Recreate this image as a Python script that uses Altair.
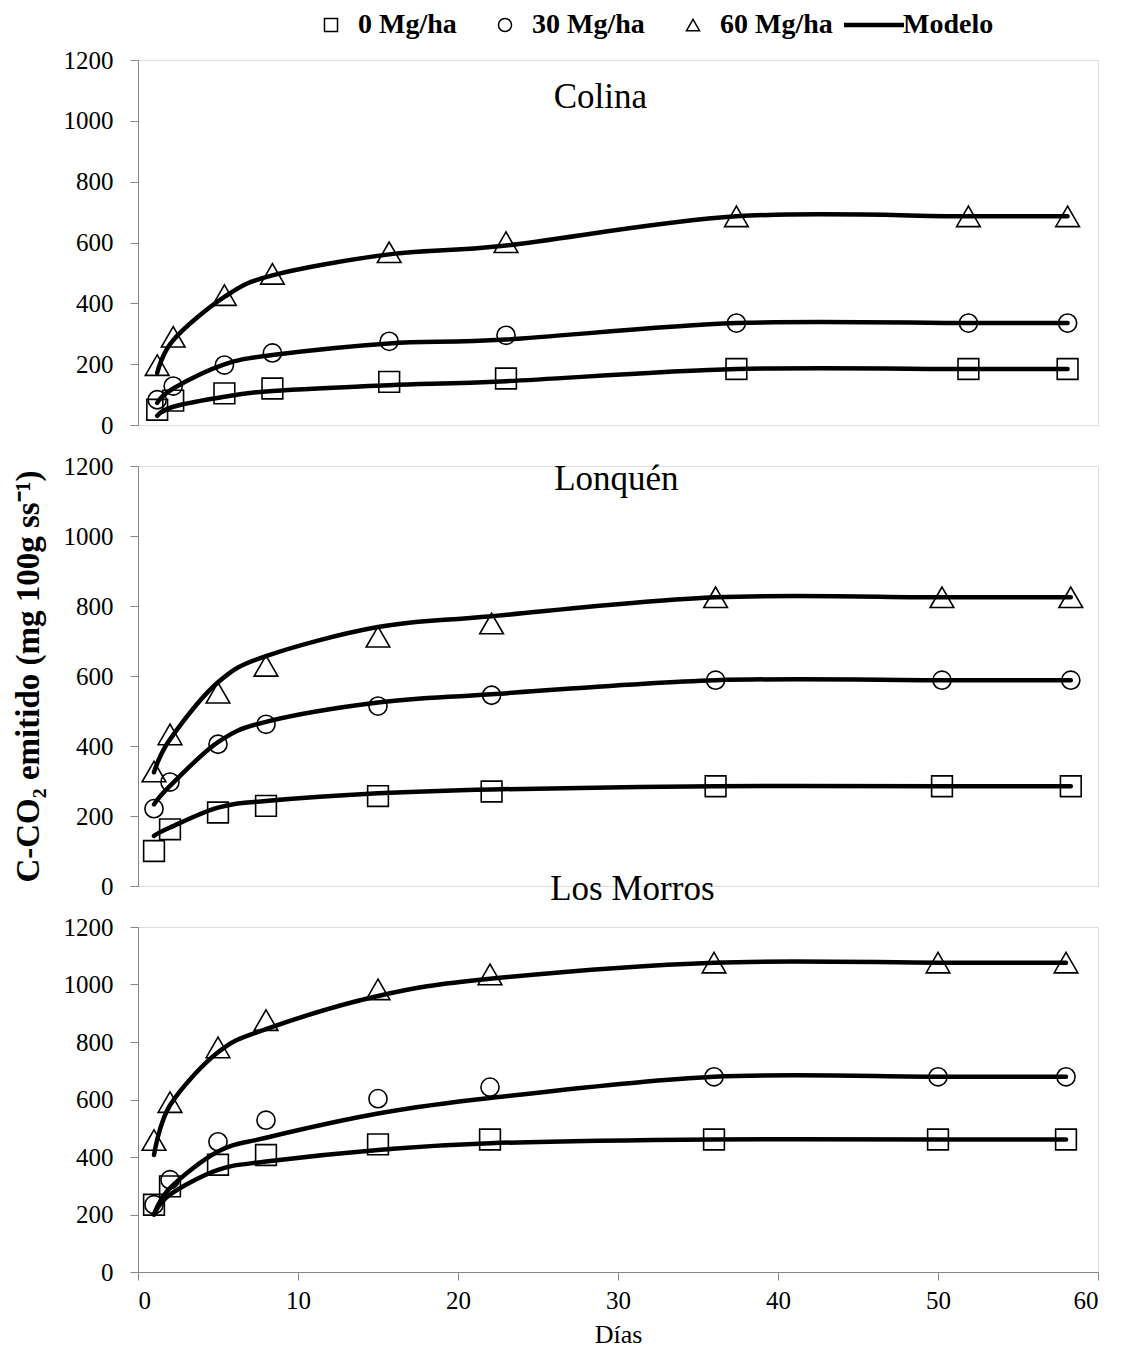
import altair as alt
import pandas as pd

FONT = "Liberation Serif"

series = ["0 Mg/ha", "30 Mg/ha", "60 Mg/ha"]
shapes = ["square", "circle", "triangle-up"]
marker_sizes = [430, 330, 560]
y_ticks = [0, 200, 400, 600, 800, 1000, 1200]
x_ticks = [0, 10, 20, 30, 40, 50, 60]

# panel titles: text, x (days), y (value units)
titles = ["Colina", "Lonquén", "Los Morros"]
title_x = [28.9, 29.9, 30.9]
title_y = [1042, 1131, 1295]

# ---- Colina ----
colina_dias = [1.2, 2.2, 5.4, 8.4, 15.7, 23.0, 37.4, 51.9, 58.1]
colina_obs_0 = [50, 80, 104, 120, 142, 153, 184, 184, 184]
colina_obs_30 = [83, 128, 197, 237, 275, 295, 335, 335, 335]
colina_obs_60 = [197, 290, 427, 497, 568, 601, 686, 686, 686]
colina_mod_0 = [30, 60, 93, 112, 131, 144, 184, 184, 184]
colina_mod_30 = [73, 120, 199, 230, 268, 281, 335, 335, 335]
colina_mod_60 = [171, 279, 421, 492, 561, 590, 686, 686, 686]

# ---- Lonquén ----
lonquen_dias = [1.0, 2.0, 5.0, 8.0, 15.0, 22.1, 36.1, 50.25, 58.3]
lonquen_obs_0 = [100, 162, 210, 229, 257, 270, 285, 285, 285]
lonquen_obs_30 = [221, 297, 405, 462, 514, 545, 588, 588, 588]
lonquen_obs_60 = [327, 433, 552, 629, 712, 750, 825, 825, 825]
lonquen_mod_0 = [143, 167, 224, 243, 265, 276, 285, 285, 285]
lonquen_mod_30 = [233, 286, 411, 469, 524, 548, 588, 588, 588]
lonquen_mod_60 = [325, 419, 582, 657, 740, 771, 825, 825, 825]

# ---- Los Morros ----
morros_dias = [1.0, 2.0, 5.0, 8.0, 15.0, 22.0, 36.0, 50.0, 58.0]
morros_obs_0 = [234, 298, 373, 407, 444, 461, 461, 461, 461]
morros_obs_30 = [234, 321, 453, 528, 603, 643, 679, 679, 679]
morros_obs_60 = [459, 591, 781, 876, 983, 1035, 1076, 1076, 1076]
morros_mod_0 = [200, 269, 355, 384, 424, 448, 461, 461, 461]
morros_mod_30 = [200, 292, 419, 467, 551, 605, 679, 679, 679]
morros_mod_60 = [407, 580, 764, 845, 960, 1020, 1076, 1076, 1076]


def frames(dias, obs, mod):
    ro, rm = [], []
    for s, sz, o, m in zip(series, marker_sizes, obs, mod):
        for d, vo, vm in zip(dias, o, m):
            ro.append({"dia": d, "valor": vo, "serie": s, "tam": sz})
            rm.append({"dia": d, "valor": vm, "serie": s, "tipo": "Modelo"})
    return pd.DataFrame(ro), pd.DataFrame(rm)


def panel(idx, dias, obs, mod, height, legend=False, ytitle=False, xaxis=False):
    d_obs, d_mod = frames(dias, obs, mod)
    x_axis_kw = dict(values=x_ticks, title="Días", titleFont=FONT, titleFontSize=26,
                     titleFontWeight="normal", titleColor="black", titlePadding=8,
                     labelFont=FONT, labelFontSize=25, labelColor="black", labelPadding=8,
                     tickSize=8, domainColor="#868686", tickColor="#868686", grid=False)
    if xaxis:
        xenc = alt.X("dia:Q", scale=alt.Scale(domain=[0, 60], nice=False), axis=alt.Axis(**x_axis_kw))
    else:
        xenc = alt.X("dia:Q", scale=alt.Scale(domain=[0, 60], nice=False), axis=None)
    y_axis_kw = dict(values=y_ticks, format="d", labelFont=FONT, labelFontSize=25, labelColor="black",
                     labelPadding=17, tickSize=8, domainColor="#868686", tickColor="#868686",
                     grid=False)
    if ytitle:
        y_axis_kw.update(title="C-CO₂ emitido (mg 100g ss⁻¹)", titleFont=FONT, titleFontSize=33,
                         titleFontWeight="bold", titleColor="black", titlePadding=18)
    else:
        y_axis_kw.update(title=None)
    yenc = alt.Y("valor:Q", scale=alt.Scale(domain=[0, 1200], nice=False), axis=alt.Axis(**y_axis_kw))

    if legend:
        shape_legend = alt.Legend(orient="none", legendX=179, legendY=-49, direction="horizontal",
                                  title=None, labelFont=FONT, labelFontSize=28, labelFontWeight="bold",
                                  labelColor="black", symbolSize=170, symbolStrokeWidth=1.5,
                                  symbolStrokeColor="black", symbolFillColor="transparent",
                                  labelOffset=13, columnPadding=34, padding=0, labelLimit=400)
        color_legend = alt.Legend(orient="none", legendX=722, legendY=-49, direction="horizontal",
                                  title=None, labelFont=FONT, labelFontSize=28, labelFontWeight="bold",
                                  labelColor="black", symbolType="M-4,0H4", symbolSize=225,
                                  symbolStrokeWidth=4.5, labelOffset=15, padding=0, labelLimit=400)
    else:
        shape_legend = None
        color_legend = None

    pts = alt.Chart(d_obs).mark_point(filled=False, color="black", strokeWidth=1.6, opacity=1).encode(
        x=xenc, y=yenc,
        shape=alt.Shape("serie:N", scale=alt.Scale(domain=series, range=shapes), legend=shape_legend),
        size=alt.Size("tam:Q", scale=None),
    )
    lines = alt.Chart(d_mod).mark_line(interpolate="cardinal", strokeWidth=4.5, strokeCap="round").encode(
        x=alt.X("dia:Q"), y=alt.Y("valor:Q"), detail="serie:N",
        color=alt.Color("tipo:N", scale=alt.Scale(domain=["Modelo"], range=["black"]), legend=color_legend),
    )
    ttl = alt.Chart(pd.DataFrame({"t": [titles[idx]]})).mark_text(
        font=FONT, fontSize=35, baseline="alphabetic", align="center", color="black"
    ).encode(x=alt.datum(title_x[idx]), y=alt.datum(title_y[idx]), text="t:N")
    return alt.layer(pts, lines, ttl).properties(width=960, height=height)


top = panel(0, colina_dias,
            [colina_obs_0, colina_obs_30, colina_obs_60],
            [colina_mod_0, colina_mod_30, colina_mod_60], 365, legend=True)
mid = panel(1, lonquen_dias,
            [lonquen_obs_0, lonquen_obs_30, lonquen_obs_60],
            [lonquen_mod_0, lonquen_mod_30, lonquen_mod_60], 420, ytitle=True)
bot = panel(2, morros_dias,
            [morros_obs_0, morros_obs_30, morros_obs_60],
            [morros_mod_0, morros_mod_30, morros_mod_60], 345, xaxis=True)

chart = alt.vconcat(top, mid, bot, spacing=41, bounds="flush").resolve_scale(
    shape="independent", color="independent"
).properties(
    padding={"left": 3, "top": 2, "right": 5, "bottom": 5}
).configure_view(stroke=None).configure(background="white")

chart.save("out.html", embed_options={"renderer": "svg", "actions": False})
